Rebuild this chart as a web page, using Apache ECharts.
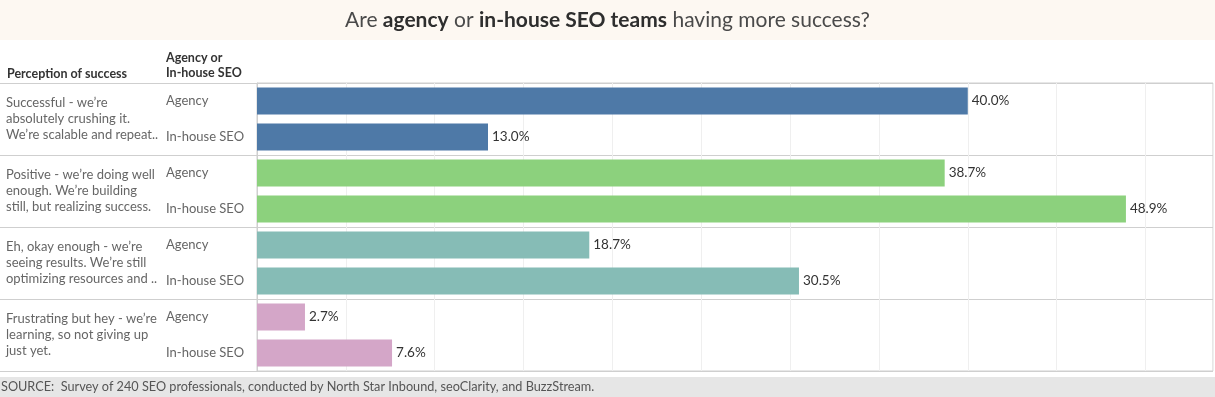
<!DOCTYPE html>
<html>
<head>
<meta charset="utf-8">
<script src="https://cdn.jsdelivr.net/npm/echarts@6/dist/echarts.min.js"></script>
<style>html,body{margin:0;padding:0;background:#fff}#c{width:1215px;height:397px}</style>
</head>
<body>
<div id="c"></div>
<script>
const groups = [
  "Successful - we’re\nabsolutely crushing it.\nWe’re scalable and repeat..",
  "Positive - we’re doing well\nenough. We’re building\nstill, but realizing success.",
  "Eh, okay enough - we’re\nseeing results. We’re still\noptimizing resources and ..",
  "Frustrating but hey - we’re\nlearning, so not giving up\njust yet."
];
const teams = ["Agency", "In-house SEO"];
const agencyValues = [40.0, 38.7, 18.7, 2.7];
const inhouseValues = [13.0, 48.9, 30.5, 7.6];
const groupColors = ["#4e79a7", "#8cd17d", "#86bcb6", "#d4a6c8"];

const subCats = [];
const barData = [];
groups.forEach((g, i) => {
  subCats.push(teams[0]); barData.push({value: agencyValues[i], itemStyle: {color: groupColors[i]}});
  subCats.push(teams[1]); barData.push({value: inhouseValues[i], itemStyle: {color: groupColors[i]}});
});

const FONT = "Lato";
const chart = echarts.init(document.getElementById('c'));
chart.setOption({
  animation: false,
  textStyle: {fontFamily: FONT},
  graphic: [
    {type: 'rect', shape: {x: 0, y: 0, width: 1215, height: 40}, style: {fill: '#fdf8f2'}, z: -1},
    {type: 'rect', shape: {x: 0, y: 377, width: 1215, height: 20}, style: {fill: '#e6e6e6'}, z: -1}
  ],
  title: [
    {
      text: "Are {b|agency} or {b|in-house SEO teams} having more success?",
      left: 'center', top: 10, padding: 0,
      textStyle: {fontFamily: FONT, fontSize: 21, fontWeight: 'normal', color: '#4a4a4a',
        rich: {b: {fontFamily: FONT, fontSize: 21, fontWeight: 'bold', color: '#2e2e2e'}}}
    },
    {
      text: "Perception of success", left: 7, top: 67, padding: 0,
      textStyle: {fontFamily: FONT, fontSize: 12.5, fontWeight: 'bold', color: '#333'}
    },
    {
      text: "Agency or\nIn-house SEO", left: 166, top: 50, padding: 0,
      textStyle: {fontFamily: FONT, fontSize: 12.5, fontWeight: 'bold', color: '#333', lineHeight: 15}
    },
    {
      text: "SOURCE:  Survey of 240 SEO professionals, conducted by North Star Inbound, seoClarity, and BuzzStream.",
      left: 1, top: 380, padding: 0,
      textStyle: {fontFamily: FONT, fontSize: 12.7, fontWeight: 'normal', color: '#555'}
    }
  ],
  grid: {left: 257, top: 83, right: 2, bottom: 26, show: true, borderColor: '#cfcfcf', borderWidth: 1},
  xAxis: {
    type: 'value', min: 0, max: 53.8, interval: 5,
    axisLabel: {show: false}, axisLine: {show: false}, axisTick: {show: false},
    splitLine: {show: true, lineStyle: {color: '#efefef'}}
  },
  yAxis: [
    {
      type: 'category', data: subCats, inverse: true,
      axisLine: {show: true, lineStyle: {color: '#cfcfcf'}},
      axisTick: {show: false}, splitLine: {show: false},
      axisLabel: {align: 'left', margin: 91, fontSize: 13, color: '#666', interval: 0, fontFamily: FONT}
    },
    {
      type: 'category', data: groups, inverse: true, position: 'left',
      axisLine: {show: false},
      axisTick: {show: true, length: 257, lineStyle: {color: '#cfcfcf'}},
      splitLine: {show: true, lineStyle: {color: '#cfcfcf'}},
      axisLabel: {align: 'left', margin: 251, fontSize: 13, color: '#666', interval: 0, lineHeight: 16, fontFamily: FONT}
    }
  ],
  series: [{
    type: 'bar', yAxisIndex: 0, data: barData, barWidth: 27,
    label: {show: true, position: 'right', distance: 4, fontSize: 13.5, color: '#333', fontFamily: FONT,
      formatter: p => p.value.toFixed(1) + '%'}
  }]
});
</script>
</body>
</html>
